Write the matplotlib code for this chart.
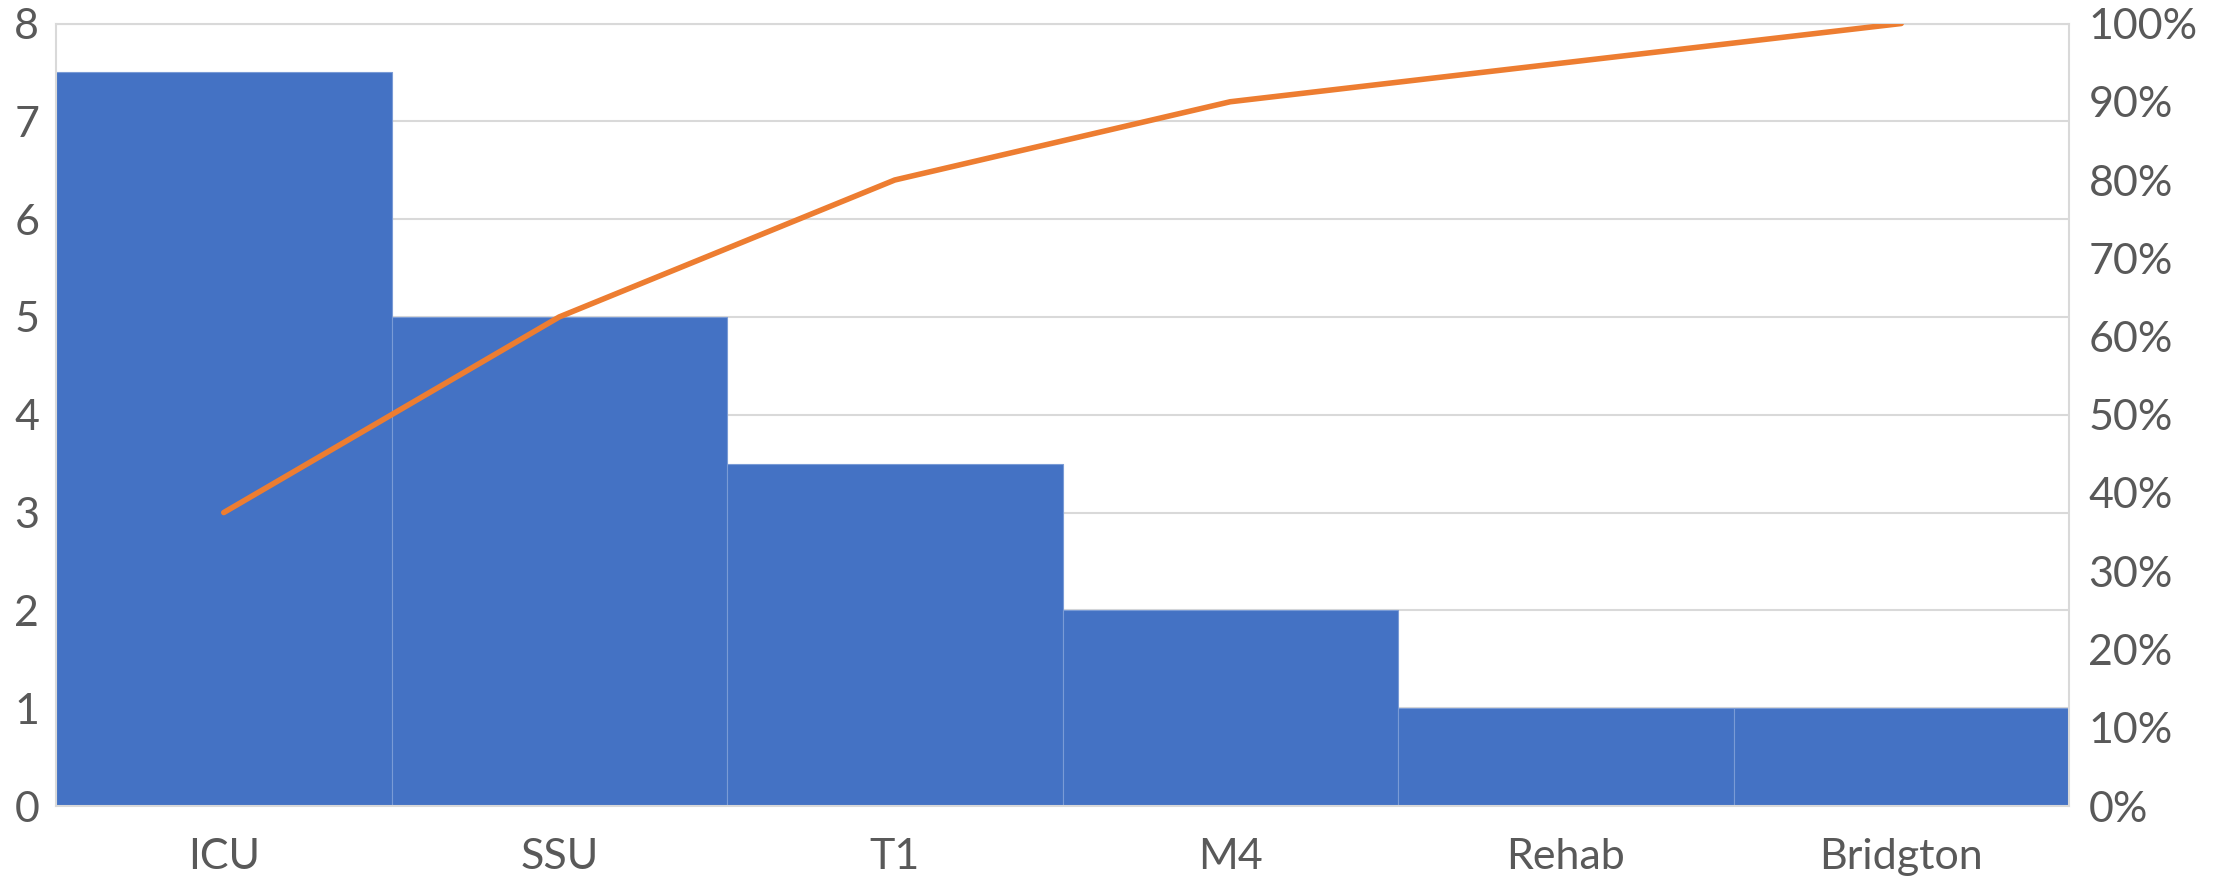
import numpy as np
import matplotlib.pyplot as plt
import matplotlib as mpl
from matplotlib.ticker import PercentFormatter

mpl.rcParams.update({'font.size': 30, 'font.family': ['Lato', 'DejaVu Sans']})

wards = ['ICU', 'SSU', 'T1', 'M4', 'Rehab', 'Bridgton']
counts = [7.5, 5, 3.5, 2, 1, 1]

cum_pct = np.cumsum(counts) / np.sum(counts) * 100

bar_color = '#4472C4'
line_color = '#ED7D31'
grid_color = '#d9d9d9'
text_color = '#595959'

fig = plt.figure(figsize=(22.24, 8.77), dpi=100)
ax = fig.add_axes([56 / 2224, 1 - 806 / 877, (2069 - 56) / 2224, (806 - 23.5) / 877])
x = np.arange(len(wards))
ax.bar(x, counts, width=1.0, color=bar_color, edgecolor='#7a9bd6',
       linewidth=0.8, zorder=2)
ax.set_xlim(-0.5, len(wards) - 0.5)
ax.set_ylim(0, 8)
ax.set_yticks(range(0, 9))
ax.set_xticks(x)
ax.set_xticklabels(wards)
ax.yaxis.grid(True, color=grid_color, linewidth=1.5, zorder=0)
ax.set_axisbelow(True)
ax.tick_params(axis='both', length=0, colors=text_color, labelsize=31)
ax.tick_params(axis='y', pad=12)
ax.tick_params(axis='x', pad=23)
for s in ax.spines.values():
    s.set_color(grid_color)
    s.set_linewidth(1.5)

# cumulative percentage on the right-hand axis
ax2 = ax.twinx()
ax2.plot(x, cum_pct, color=line_color, linewidth=4, solid_capstyle='round', zorder=3)
ax2.set_ylim(0, 100)
ax2.set_yticks(range(0, 101, 10))
ax2.yaxis.set_major_formatter(PercentFormatter(decimals=0))
ax2.tick_params(axis='y', length=0, colors=text_color, labelsize=31, pad=14)
for s in ax2.spines.values():
    s.set_visible(False)

fig.savefig('out.png', dpi=100)
